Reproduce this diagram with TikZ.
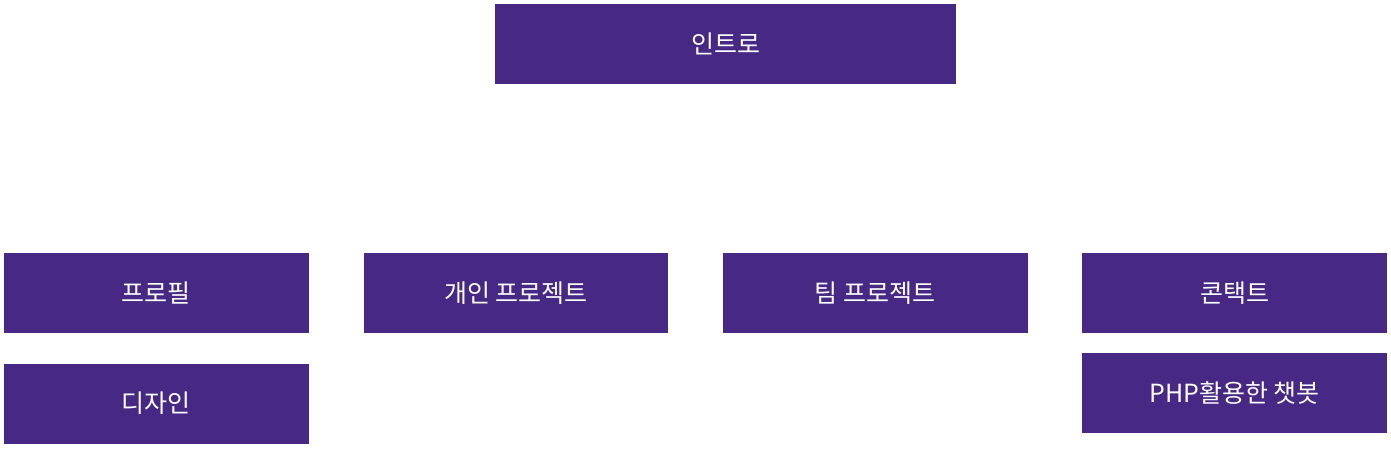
\documentclass[tikz,border=0pt]{standalone}
\usepackage{fontspec}
\setmainfont{Noto Sans CJK KR}
\usepackage{tikz}
\usetikzlibrary{positioning}
\definecolor{menupurple}{HTML}{472884}

\begin{document}
\begin{tikzpicture}[node distance={54.5pt}, x=1pt, y=-1pt,
                    main/.style = {fill=menupurple, text=white, inner sep=0pt, minimum width=304.5pt, minimum height=80pt, font=\fontsize{25}{30}\selectfont}]
                    \useasboundingbox (0,0) rectangle (1391,448);
                    \node[main, minimum width=461pt] (intro) at (725.5,44) {인트로};
                    \node[main, anchor=north west] (profile) at (4,253) {프로필};
                    \node[main] (personal) [right=of profile] {개인 프로젝트};
                    \node[main] (team) [right=of personal] {팀 프로젝트};
                    \node[main] (contact) [right=of team] {콘택트};
                    \node[main] (design) [below=30pt of profile] {디자인};
                    \node[main] (chatbot) [below=19pt of contact] {PHP활용한 챗봇};
                    %\node[main] (extra) [below=of team] {};
                \end{tikzpicture}
\end{document}
